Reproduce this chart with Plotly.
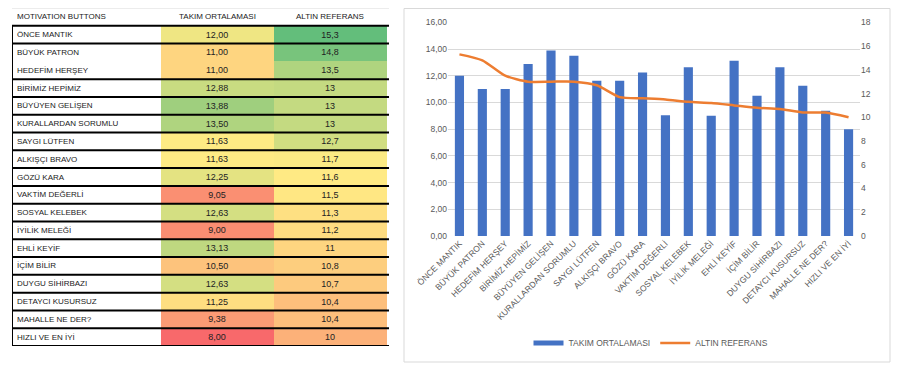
import numpy as np
import plotly.graph_objects as go

# ---------------- data ----------------
labels = ["ÖNCE MANTIK", "BÜYÜK PATRON", "HEDEFİM HERŞEY", "BİRİMİZ HEPİMİZ", "BÜYÜYEN GELİŞEN",
          "KURALLARDAN SORUMLU", "SAYGI LÜTFEN", "ALKIŞÇI BRAVO", "GÖZÜ KARA", "VAKTİM DEĞERLİ",
          "SOSYAL KELEBEK", "İYİLİK MELEĞİ", "EHLİ KEYİF", "İÇİM BİLİR", "DUYGU SİHİRBAZI",
          "DETAYCI KUSURSUZ", "MAHALLE NE DER?", "HIZLI VE EN İYİ"]
takim = [12.00, 11.00, 11.00, 12.88, 13.88, 13.50, 11.63, 11.63, 12.25, 9.05,
         12.63, 9.00, 13.13, 10.50, 12.63, 11.25, 9.38, 8.00]
altin = [15.3, 14.8, 13.5, 13, 13, 13, 12.7, 11.7, 11.6, 11.5,
         11.3, 11.2, 11, 10.8, 10.7, 10.4, 10.4, 10]
table_headers = ["MOTIVATION BUTTONS", "TAKIM ORTALAMASI", "ALTIN REFERANS"]
series_names = ["TAKIM ORTALAMASI", "ALTIN REFERANS"]
merged_rows = [(1, 2)]  # rows shown without a separator between them

# ---------------- styles ----------------
FONT = "Liberation Sans"
BLUE = "#4472C4"
ORANGE = "#ED7D31"
GRAY_TXT = "#595959"
GRID = "#D9D9D9"
RED, YEL, GRN = "#F8696B", "#FFEB84", "#63BE7B"

# the page body adds an 8px margin; the figure is sized to fill the rest of the window
OFF = 8
W, H = 900 - OFF, 384 - OFF
def px_x(p): return (p - OFF) / W
def px_y(p): return 1 - (p - OFF) / H

n = len(labels)
all_vals = np.array(takim + altin, dtype=float)
zmin, zmax, zmed = all_vals.min(), all_vals.max(), np.percentile(all_vals, 50)
mid = (zmed - zmin) / (zmax - zmin)

def fmt_takim(v): return f"{v:.2f}".replace(".", ",")
def fmt_altin(v): return f"{v:g}".replace(".", ",")

z = [[t, a] for t, a in zip(takim, altin)]
text = [[fmt_takim(t), fmt_altin(a)] for t, a in zip(takim, altin)]

fig = go.Figure()

# ---------- table (heatmap) ----------
fig.add_trace(go.Heatmap(
    z=z, x=[0, 1], y=list(range(n)), text=text, texttemplate="%{text}",
    textfont=dict(family=FONT, size=9, color="#222222"),
    colorscale=[[0, RED], [mid, YEL], [1, GRN]], zmin=zmin, zmax=zmax,
    showscale=False, hoverinfo="skip", xaxis="x3", yaxis="y3"))

X_LEFT, X_RIGHT = -1.82, 1.52
annotations = []
for i, lab in enumerate(labels):
    annotations.append(dict(x=X_LEFT + 0.03, y=i, xref="x3", yref="y3", text=lab,
                            xanchor="left", yanchor="middle", showarrow=False,
                            font=dict(family=FONT, size=8, color="#1a1a1a")))
annotations.append(dict(x=X_LEFT + 0.03, y=-1, xref="x3", yref="y3", text=table_headers[0],
                        xanchor="left", yanchor="middle", showarrow=False,
                        font=dict(family=FONT, size=8, color="#1a1a1a")))
for j, h in enumerate(table_headers[1:]):
    annotations.append(dict(x=j, y=-1, xref="x3", yref="y3", text=h,
                            xanchor="center", yanchor="middle", showarrow=False,
                            font=dict(family=FONT, size=8, color="#1a1a1a")))

shapes = []
skip = {b for a, b in merged_rows}
for k in range(n + 1):
    if k in skip:
        continue
    shapes.append(dict(type="line", xref="x3", yref="y3", x0=X_LEFT, x1=X_RIGHT,
                       y0=k - 0.5, y1=k - 0.5, line=dict(color="#000000", width=2)))
shapes.append(dict(type="line", xref="x3", yref="y3", x0=X_LEFT, x1=X_LEFT,
                   y0=-0.5, y1=n - 0.5, line=dict(color="#000000", width=2)))
shapes.append(dict(type="line", xref="x3", yref="y3", x0=X_LEFT, x1=X_RIGHT,
                   y0=-1.5, y1=-1.5, line=dict(color=GRID, width=1)))

# ---------- chart ----------
fig.add_trace(go.Bar(x=labels, y=takim, name=series_names[0], marker_color=BLUE,
                     showlegend=False, xaxis="x", yaxis="y"))
fig.add_trace(go.Scatter(x=labels, y=altin, name=series_names[1], mode="lines",
                         line=dict(color=ORANGE, width=2.5, shape="spline", smoothing=0.6),
                         showlegend=False, xaxis="x", yaxis="y2"))
# legend entries
fig.add_trace(go.Scatter(x=[None], y=[None], name=series_names[0], mode="lines",
                         line=dict(color=BLUE, width=5), xaxis="x", yaxis="y"))
fig.add_trace(go.Scatter(x=[None], y=[None], name=series_names[1], mode="lines",
                         line=dict(color=ORANGE, width=2.5), xaxis="x", yaxis="y2"))

shapes.append(dict(type="rect", xref="paper", yref="paper", x0=px_x(404), x1=px_x(890),
                   y0=px_y(362), y1=px_y(8.5), line=dict(color=GRID, width=1)))

tickfont = dict(family=FONT, size=8.5, color=GRAY_TXT)
fig.update_layout(
    template="none",
    width=W, height=H, margin=dict(l=0, r=0, t=0, b=0, pad=0, autoexpand=False),
    paper_bgcolor="white", plot_bgcolor="rgba(0,0,0,0)",
    separators=",.", bargap=0.6,
    font=dict(family=FONT),
    xaxis=dict(domain=[px_x(448), px_x(860)], anchor="y", tickangle=-45, tickfont=tickfont,
               showgrid=False, showline=False, ticks="", automargin=False),
    yaxis=dict(domain=[px_y(236), px_y(22.3)], anchor="x", range=[0, 16], dtick=2,
               tickformat=".2f", tickfont=tickfont, gridcolor=GRID, gridwidth=1,
               zeroline=False, showline=False, ticks="", automargin=False),
    yaxis2=dict(overlaying="y", side="right", anchor="x", range=[0, 18], dtick=2,
                tickfont=tickfont, showgrid=False, zeroline=False, showline=False, ticks="",
                automargin=False),
    xaxis3=dict(domain=[px_x(12), px_x(389)], anchor="y3", range=[X_LEFT, X_RIGHT],
                visible=False, automargin=False),
    yaxis3=dict(domain=[px_y(346), px_y(8)], anchor="x3", range=[n - 0.5, -1.5],
                visible=False, automargin=False),
    legend=dict(orientation="h", x=px_x(651), xanchor="center", y=px_y(343),
                yanchor="middle", font=dict(family=FONT, size=8.5, color=GRAY_TXT),
                itemwidth=30, bgcolor="rgba(0,0,0,0)"),
    annotations=annotations, shapes=shapes,
)

fig.write_html("out.html")
